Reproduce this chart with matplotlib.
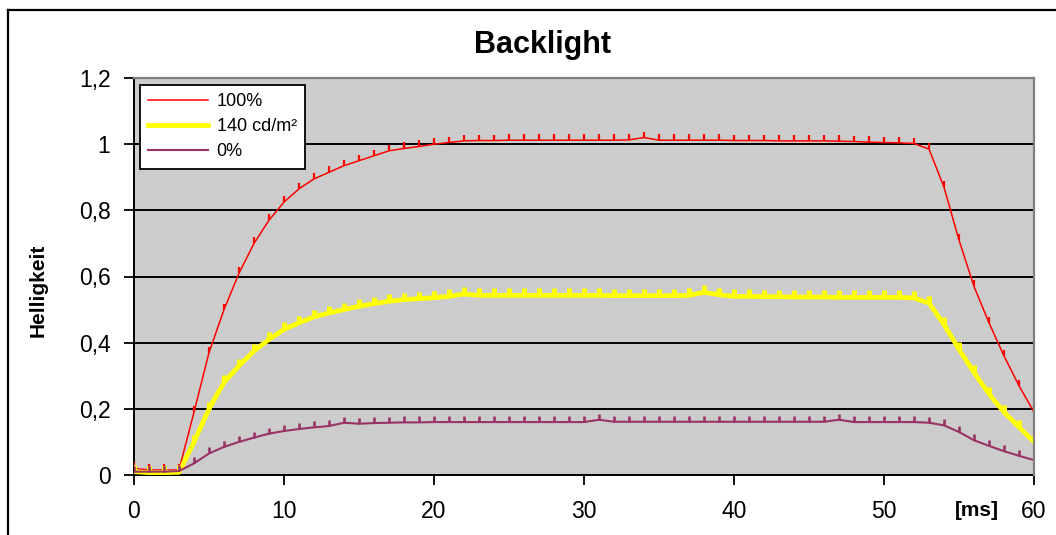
import matplotlib
matplotlib.use("Agg")
import matplotlib.pyplot as plt
from matplotlib.lines import Line2D

plt.rcParams['font.family'] = ['Liberation Sans', 'DejaVu Sans']

# time axis [ms]
t_ms = list(range(0, 61))

red_100 = [0.02, 0.015, 0.015, 0.015, 0.19, 0.37, 0.50, 0.61, 0.70, 0.77,
           0.825, 0.865, 0.895, 0.915, 0.935, 0.95, 0.965, 0.98, 0.987, 0.993,
           1.0, 1.005, 1.01, 1.011, 1.011, 1.012, 1.012, 1.012, 1.012, 1.012,
           1.012, 1.012, 1.012, 1.013, 1.02, 1.012, 1.012, 1.012, 1.012, 1.012,
           1.011, 1.011, 1.011, 1.01, 1.01, 1.01, 1.01, 1.009, 1.008, 1.006,
           1.005, 1.004, 1.002, 0.985, 0.87, 0.71, 0.57, 0.46, 0.36, 0.27,
           0.19]

yellow_140 = [0.01, 0.007, 0.007, 0.008, 0.10, 0.20, 0.28, 0.33, 0.375, 0.41,
              0.44, 0.46, 0.478, 0.49, 0.50, 0.51, 0.518, 0.525, 0.53, 0.533,
              0.536, 0.54, 0.547, 0.543, 0.543, 0.543, 0.543, 0.543, 0.543, 0.543,
              0.543, 0.543, 0.542, 0.542, 0.542, 0.542, 0.542, 0.543, 0.552, 0.545,
              0.54, 0.54, 0.539, 0.539, 0.538, 0.538, 0.538, 0.537, 0.537, 0.537,
              0.537, 0.537, 0.535, 0.52, 0.455, 0.38, 0.31, 0.245, 0.19, 0.145,
              0.10]

purple_0 = [0.01, 0.01, 0.01, 0.012, 0.035, 0.065, 0.085, 0.10, 0.113, 0.125,
            0.133, 0.139, 0.144, 0.148, 0.158, 0.155, 0.157, 0.158, 0.159, 0.159,
            0.16, 0.16, 0.16, 0.16, 0.16, 0.16, 0.16, 0.16, 0.16, 0.16,
            0.16, 0.167, 0.161, 0.161, 0.161, 0.161, 0.161, 0.161, 0.161, 0.161,
            0.161, 0.161, 0.161, 0.161, 0.161, 0.161, 0.161, 0.167, 0.16, 0.16,
            0.16, 0.16, 0.16, 0.158, 0.15, 0.13, 0.105, 0.088, 0.072, 0.058,
            0.045]

series_labels = ["100%", "140 cd/m²", "0%"]
x_ticks = [0, 10, 20, 30, 40, 50, 60]
y_ticks = [0, 0.2, 0.4, 0.6, 0.8, 1.0, 1.2]
y_tick_labels = ["0", "0,2", "0,4", "0,6", "0,8", "1", "1,2"]

W, H = 1056, 535
fig = plt.figure(figsize=(W / 100, H / 100), dpi=100)
fig.patch.set_facecolor('white')

ax = fig.add_axes([134 / W, 1 - 475 / H, 900 / W, 397 / H])
ax.set_facecolor('#CCCCCC')

colors = ['#FF0000', '#FFFF00', '#993366']
widths = [1.1, 3.4, 1.5]
mew = [1.6, 3.6, 1.9]
msizes = [4.0, 5.2, 4.0]
for ys, c, lw, ms, ew in zip([red_100, yellow_140, purple_0], colors, widths, msizes, mew):
    ax.plot(t_ms, ys, color=c, lw=lw, marker=2, markersize=ms,
            markeredgewidth=ew, zorder=3)

ax.set_xlim(0, 60)
ax.set_ylim(0, 1.2)
ax.set_xticks(x_ticks)
ax.set_xticklabels([str(v) for v in x_ticks])
ax.set_yticks(y_ticks)
ax.set_yticklabels(y_tick_labels)
ax.tick_params(axis='both', direction='out', length=7, width=1.3, color='black',
               labelsize=16.5, labelcolor='black')
ax.tick_params(axis='x', pad=11)
ax.tick_params(axis='y', pad=10)

ax.yaxis.grid(True, color='black', lw=1.4, zorder=1)
ax.set_axisbelow(True)
for s in ['left', 'bottom']:
    ax.spines[s].set_color('black')
    ax.spines[s].set_linewidth(1.4)
for s in ['top', 'right']:
    ax.spines[s].set_color('#808080')
    ax.spines[s].set_linewidth(1.6)
    ax.spines[s].set_zorder(5)

handles = [Line2D([0], [0], color=c, lw=lw) for c, lw in zip(colors, widths)]
leg = ax.legend(handles, series_labels, loc='upper left',
                bbox_to_anchor=(6 / 900, 1 - 7 / 397),
                fontsize=13, frameon=True, fancybox=False, edgecolor='black',
                framealpha=1, handlelength=3.3, handletextpad=0.5,
                labelspacing=0.45, borderpad=0.45, borderaxespad=0)
leg.get_frame().set_linewidth(1.3)
leg.set_zorder(6)

fig.text(543 / W, 1 - 45 / H, "Backlight", ha='center', va='center',
         fontsize=22, fontweight='bold')
fig.text(38 / W, 1 - 290 / H, "Helligkeit", ha='center', va='center',
         rotation=90, fontsize=15, fontweight='bold')
fig.text(977 / W, 1 - 510 / H, "[ms]", ha='center', va='center',
         fontsize=15, fontweight='bold')

# outer chart border
fig.add_artist(Line2D([8 / W, 8 / W], [0, 1 - 10 / H], color='black', lw=1.6,
                      transform=fig.transFigure))
fig.add_artist(Line2D([8 / W, 1], [1 - 10 / H, 1 - 10 / H], color='black', lw=1.6,
                      transform=fig.transFigure))

fig.savefig("out.png", dpi=100)
